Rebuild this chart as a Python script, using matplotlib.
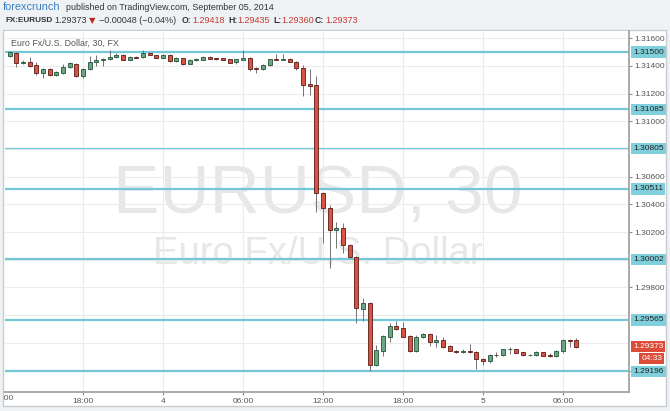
import matplotlib
matplotlib.use('Agg')
import matplotlib.pyplot as plt
from matplotlib.patches import Rectangle
import matplotlib.transforms as mtrans

plt.rcParams['font.family'] = ['Liberation Sans', 'DejaVu Sans']

# 30-minute EURUSD candles, 3 Sep 12:30 -> 5 Sep 07:00
opens = [
    1.31471, 1.31495, 1.31423, 1.31426, 1.31406, 1.31346, 1.31375, 1.31336, 1.31348, 1.31390,
    1.31413, 1.31330, 1.31374, 1.31428, 1.31442, 1.31449, 1.31462, 1.31481, 1.31446, 1.31464,
    1.31462, 1.31491, 1.31478, 1.31460, 1.31478, 1.31433, 1.31457, 1.31413, 1.31446, 1.31446,
    1.31464, 1.31457, 1.31455, 1.31447, 1.31426, 1.31446, 1.31457, 1.31384, 1.31375, 1.31404,
    1.31449, 1.31444, 1.31452, 1.31431, 1.31384, 1.31267, 1.31260, 1.30480, 1.30371, 1.30215,
    1.30227, 1.30107, 1.30022, 1.29644, 1.29690, 1.29240, 1.29343, 1.29444, 1.29522, 1.29505,
    1.29449, 1.29343, 1.29440, 1.29464, 1.29406, 1.29420, 1.29377, 1.29343, 1.29336, 1.29343,
    1.29334, 1.29281, 1.29267, 1.29312, 1.29310, 1.29353, 1.29353, 1.29332, 1.29310, 1.29310,
    1.29332, 1.29310, 1.29305, 1.29343, 1.29420, 1.29418]
highs = [
    1.31507, 1.31500, 1.31442, 1.31464, 1.31428, 1.31384, 1.31384, 1.31363, 1.31413, 1.31428,
    1.31421, 1.31384, 1.31468, 1.31475, 1.31460, 1.31514, 1.31490, 1.31486, 1.31471, 1.31468,
    1.31518, 1.31496, 1.31482, 1.31486, 1.31486, 1.31464, 1.31460, 1.31449, 1.31460, 1.31468,
    1.31468, 1.31460, 1.31460, 1.31451, 1.31451, 1.31514, 1.31464, 1.31392, 1.31413, 1.31453,
    1.31486, 1.31486, 1.31457, 1.31435, 1.31406, 1.31377, 1.31327, 1.30487, 1.30395, 1.30275,
    1.30263, 1.30114, 1.30029, 1.29726, 1.29697, 1.29384, 1.29456, 1.29546, 1.29560, 1.29551,
    1.29456, 1.29459, 1.29473, 1.29470, 1.29454, 1.29440, 1.29384, 1.29348, 1.29353, 1.29392,
    1.29338, 1.29288, 1.29319, 1.29336, 1.29358, 1.29372, 1.29358, 1.29336, 1.29320, 1.29338,
    1.29336, 1.29324, 1.29348, 1.29427, 1.29427, 1.29435]
lows = [
    1.31464, 1.31390, 1.31410, 1.31392, 1.31334, 1.31310, 1.31327, 1.31327, 1.31341, 1.31384,
    1.31320, 1.31312, 1.31370, 1.31399, 1.31399, 1.31442, 1.31457, 1.31442, 1.31440, 1.31455,
    1.31457, 1.31475, 1.31457, 1.31455, 1.31428, 1.31428, 1.31408, 1.31410, 1.31435, 1.31442,
    1.31449, 1.31446, 1.31440, 1.31418, 1.31413, 1.31442, 1.31363, 1.31346, 1.31370, 1.31399,
    1.31440, 1.31440, 1.31426, 1.31370, 1.31182, 1.31190, 1.30347, 1.30119, 1.29938, 1.30083,
    1.30047, 1.30015, 1.29541, 1.29561, 1.29197, 1.29233, 1.29305, 1.29408, 1.29496, 1.29440,
    1.29336, 1.29336, 1.29433, 1.29377, 1.29372, 1.29366, 1.29338, 1.29330, 1.29326, 1.29326,
    1.29209, 1.29238, 1.29252, 1.29295, 1.29305, 1.29320, 1.29325, 1.29308, 1.29305, 1.29305,
    1.29303, 1.29296, 1.29298, 1.29329, 1.29372, 1.29360]
closes = [
    1.31498, 1.31423, 1.31428, 1.31401, 1.31346, 1.31375, 1.31336, 1.31356, 1.31392, 1.31418,
    1.31327, 1.31377, 1.31428, 1.31442, 1.31453, 1.31466, 1.31481, 1.31446, 1.31466, 1.31459,
    1.31491, 1.31478, 1.31460, 1.31478, 1.31433, 1.31457, 1.31413, 1.31446, 1.31451, 1.31464,
    1.31452, 1.31449, 1.31444, 1.31423, 1.31447, 1.31460, 1.31377, 1.31375, 1.31408, 1.31447,
    1.31444, 1.31452, 1.31431, 1.31384, 1.31262, 1.31257, 1.30480, 1.30371, 1.30215, 1.30227,
    1.30107, 1.30022, 1.29649, 1.29691, 1.29240, 1.29348, 1.29449, 1.29522, 1.29502, 1.29444,
    1.29343, 1.29440, 1.29464, 1.29408, 1.29420, 1.29372, 1.29343, 1.29336, 1.29343, 1.29332,
    1.29281, 1.29267, 1.29312, 1.29310, 1.29353, 1.29356, 1.29329, 1.29312, 1.29314, 1.29334,
    1.29308, 1.29305, 1.29343, 1.29420, 1.29411, 1.29373]

# support / resistance lines drawn on the chart
levels = [1.31500, 1.31085, 1.30805, 1.30511, 1.30002, 1.29565, 1.29196]
level_widths = [1.6, 1.6, 0.9, 1.6, 1.6, 1.6, 1.6]

# time axis (candle index of each label)
time_ticks = [11, 23, 35, 47, 59, 71, 83]
time_labels = ['18:00', '4', '06:00', '12:00', '18:00', '5', '06:00']
first_label = '12:00'   # at index -1, mostly cut off by the panel edge

grid_prices = [1.292, 1.294, 1.296, 1.298, 1.300, 1.302, 1.304,
               1.306, 1.308, 1.310, 1.312, 1.314, 1.316]
# labels hidden under the level / price boxes are left out
label_prices = [1.292, 1.298, 1.302, 1.304,
                1.306, 1.310, 1.312, 1.314, 1.316]

last_price = 1.29373
countdown = '04:33'

W, H = 670, 411
fig = plt.figure(figsize=(W / 100, H / 100), dpi=100, facecolor='#eff2f5')

def fx(x):
    return x / W

def fy(y):
    return 1 - y / H

# white panel with light border
fig.patches.append(Rectangle((fx(3), fy(406)), fx(663), (406 - 30) / H,
                             transform=fig.transFigure, fc='white',
                             ec='#c9cdd1', lw=1, zorder=-1))

ax = fig.add_axes([fx(5), fy(392), fx(624), (392 - 30.7) / H])
ax.set_facecolor('white')

# watermark
ax.text(0.502, 0.545, 'EURUSD, 30', transform=ax.transAxes, ha='center',
        va='center', fontsize=50, color='#e7e7e7', zorder=0)
ax.text(0.502, 0.382, 'Euro Fx/U.S. Dollar', transform=ax.transAxes,
        ha='center', va='center', fontsize=27.5, color='#e7e7e7', zorder=0)

# grid
for t in [-1] + time_ticks:
    ax.axvline(t, color='#ececec', lw=0.8, zorder=0.5)
for p in grid_prices:
    ax.axhline(p, color='#ececec', lw=0.8, zorder=0.5)

# levels
for lv, lw in zip(levels, level_widths):
    ax.axhline(lv, color='#72c8d6', lw=lw, zorder=1)

# candles
up_face, up_edge = '#6ba583', '#225437'
dn_face, dn_edge = '#d75442', '#5b1a13'
idx = list(range(len(opens)))
for i, o, h, l, c in zip(idx, opens, highs, lows, closes):
    up = c >= o
    ax.vlines(i, l, h, color='#737375', lw=0.7, zorder=2)
    ax.bar(i, abs(c - o), bottom=min(o, c), width=0.62,
           color=up_face if up else dn_face,
           edgecolor=up_edge if up else dn_edge, linewidth=0.6, zorder=3)

ax.set_xticks(time_ticks)
ax.set_xticklabels(time_labels)
ax.yaxis.tick_right()
ax.set_yticks(label_prices)
ax.set_yticklabels(['%.5f' % p for p in label_prices])
ax.tick_params(axis='both', labelsize=6, colors='#8a8a8a', labelcolor='#555555',
               length=2.5, width=0.8)
ax.tick_params(axis='y', pad=1)
ax.tick_params(axis='x', pad=2)
ax.set_xlim(-0.7, 92.9)
ax.set_ylim(1.29045, 1.31654)

for s in ['left', 'top']:
    ax.spines[s].set_visible(False)
for s in ['right', 'bottom']:
    ax.spines[s].set_color('#a9a9a9')
    ax.spines[s].set_linewidth(1.4)

# cut-off first time label
t0 = fig.text(fx(2.5), fy(398.5), first_label, fontsize=6, color='#555555',
              ha='center', va='center')
t0.set_clip_box(mtrans.TransformedBbox(
    mtrans.Bbox([[fx(3.5), 0], [1, 1]]), fig.transFigure))
t0.set_clip_on(True)

# price labels on the right axis
tr = mtrans.blended_transform_factory(ax.transAxes, ax.transData)
for lv in levels:
    ax.text(1.0065, lv, '%.5f' % lv, transform=tr, ha='left', va='center',
            fontsize=6, color='#222222', clip_on=False, zorder=10,
            bbox=dict(boxstyle='square,pad=0.25', fc='#7fd0dc', ec='none'))
ax.text(1.0065, last_price, '%.5f' % last_price, transform=tr, ha='left',
        va='center', fontsize=6, color='white', clip_on=False, zorder=11,
        bbox=dict(boxstyle='square,pad=0.25', fc='#dd4b39', ec='none'))
ax.text(1.0535, last_price - 0.00087, countdown, transform=tr, ha='right',
        va='center', fontsize=6, color='white', clip_on=False, zorder=11,
        bbox=dict(boxstyle='square,pad=0.25', fc='#dd4b39', ec='none'))

# chart caption
fig.text(fx(11), fy(43), 'Euro Fx/U.S. Dollar, 30, FX', fontsize=6.4,
         color='#555555', va='center')

# header
fig.text(fx(3), fy(7), 'forexcrunch', fontsize=7.8, color='#3a7fc1',
         va='center')
fig.text(fx(66), fy(7), 'published on TradingView.com, September 05, 2014',
         fontsize=6.4, color='#333333', va='center')

row = fy(20.5)
fig.text(fx(5), row, 'FX:EURUSD', fontsize=5.9, weight='bold', color='#333333', va='center')
fig.text(fx(54), row, '1.29373', fontsize=6.5, color='#333333', va='center')
fig.text(fx(89), row, '\u25bc', fontsize=6, color='#c0281e', va='center',
         family=['DejaVu Sans'])
fig.text(fx(99), row, '\u22120.00048 (\u22120.04%)', fontsize=6.5, color='#333333', va='center')
head = [('O:', 182, '1.29418', 192), ('H:', 228, '1.29435', 237),
        ('L:', 273, '1.29360', 281), ('C:', 315, '1.29373', 325)]
for lab, xl, val, xv in head:
    fig.text(fx(xl), row, lab, fontsize=6.2, weight='bold', color='#333333', va='center')
    fig.text(fx(xv), row, val, fontsize=6.5, color='#c43a31', va='center')

fig.savefig('out.png', dpi=100, facecolor=fig.get_facecolor())
